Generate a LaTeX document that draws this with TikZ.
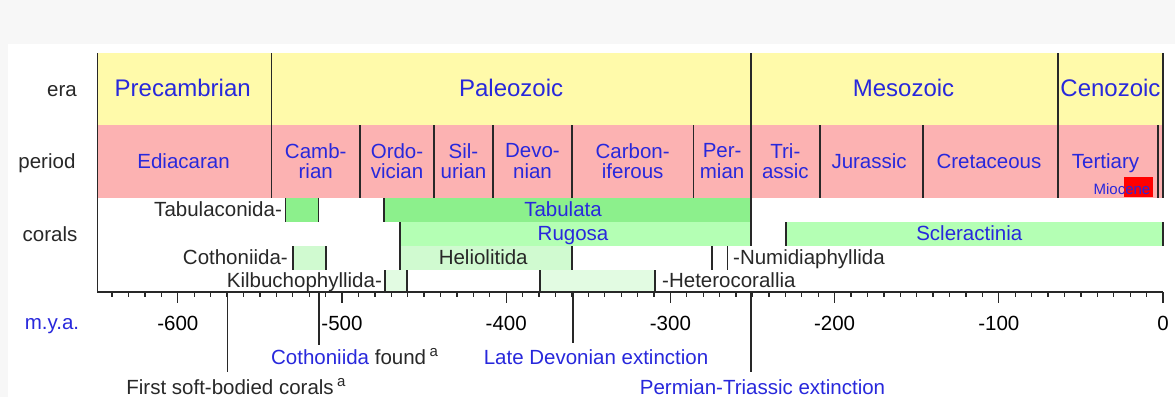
\documentclass[tikz,border=0pt]{standalone}
\usepackage{fontspec}
\setmainfont{Liberation Sans}
\definecolor{erayellow}{RGB}{255,250,170}
\definecolor{periodpink}{RGB}{252,178,178}
\definecolor{tabgreen}{RGB}{140,240,140}
\definecolor{ruggreen}{RGB}{180,255,180}
\definecolor{heligreen}{RGB}{208,250,208}
\definecolor{palegreen}{RGB}{226,251,226}
\definecolor{labelblue}{RGB}{40,40,220}
\definecolor{labelgrey}{RGB}{40,40,40}
\newcommand{\supmark}{\,\raisebox{8pt}{\fontsize{15}{15}\selectfont a}}
\tikzset{
  txt/.style={font=\fontsize{20.5}{20.5}\selectfont,inner sep=0pt,anchor=base},
  erafont/.style={font=\fontsize{24}{24}\selectfont},
  bluetxt/.style={txt,text=labelblue},
  greytxt/.style={txt,text=labelgrey},
  twoline/.style={anchor=center,align=center},
  rule/.style={draw=labelgrey,line width=1.6pt},
  tickline/.style={draw=labelgrey,line width=1.3pt}
}
\begin{document}
\begin{tikzpicture}[x=1.642pt,y=-1pt]
	\useasboundingbox (-708.3,0) rectangle (7.3,397);
	\fill[black!3] (-708.3,0) rectangle (7.3,397);
	\fill[white] (-703.4,44) rectangle (7.3,397);
	% eras and periods
	\fill[erayellow] (-649,53) rectangle (0,125);
	\fill[periodpink] (-649,125) rectangle (0,198);
	\fill[red] (-23.6,177.3) rectangle (-6.3,196.7);
	\foreach \t in {-543,-251,-64,0}
		\draw[rule] (\t,53) -- (\t,198);
	\foreach \t in {-489,-444,-408,-360,-286,-209,-146,-3}
		\draw[rule] (\t,125) -- (\t,198);
	\node[greytxt] (era) at (-670.5,96) {era};
	\node[greytxt] (period) at (-679.7,168) {period};
	\node[greytxt] (corals) at (-677.8,241) {corals};
	\node[bluetxt] (mya) at (-676.6,329) {m.y.a.};
	\node[bluetxt,erafont] (precamb) at (-597,96) {Precambrian};
	\node[bluetxt,erafont] (paleo) at (-397,96) {Paleozoic};
	\node[bluetxt,erafont] (meso) at (-158,96) {Mesozoic};
	\node[bluetxt,erafont] (ceno) at (-32,96) {Cenozoic};
	\node[bluetxt] (ediac) at (-596.5,168) {Ediacaran};
	\node[bluetxt,twoline] (camb) at (-516,161) {Camb-\\rian};
	\node[bluetxt,twoline] (ordo) at (-466.5,161) {Ordo-\\vician};
	\node[bluetxt,twoline] (silu) at (-426,161) {Sil-\\urian};
	\node[bluetxt,twoline] (devo) at (-384,161) {Devo-\\nian};
	\node[bluetxt,twoline] (carbo) at (-323,161) {Carbon-\\iferous};
	\node[bluetxt,twoline] (perm) at (-268.5,161) {Per-\\mian};
	\node[bluetxt,twoline] (trias) at (-230,161) {Tri-\\assic};
	\node[bluetxt] (juras) at (-179,168) {Jurassic};
	\node[bluetxt] (creta) at (-106,168) {Cretaceous};
	\node[bluetxt] (terti) at (-35,168) {Tertiary};
	\node[bluetxt,font=\fontsize{15}{15}\selectfont] (mioc) at (-25,194) {Miocene};
	% coral ranges
	\foreach \a/\b/\ya/\yb/\c in {-534.3/-514.4/198/222/tabgreen,-474.4/-251/198/222/tabgreen,
		-464.7/-251/222/246/ruggreen,-229.6/0/222/246/ruggreen,
		-529.8/-509.7/246/270/heligreen,-464.7/-360/246/270/heligreen,-274.7/-265.1/246/270/white,
		-473.8/-460.4/270/292/palegreen,-379.4/-309.4/270/292/palegreen}{
		\fill[\c] (\a,\ya) rectangle (\b,\yb);
		\draw[tickline] (\a,\ya) -- (\a,\yb) (\b,\ya) -- (\b,\yb);
	}
	\draw[rule] (-251,198) -- (-251,246);
	\node[greytxt,anchor=base east] (tabcon) at (-536.5,216.5) {Tabulaconida-};
	\node[bluetxt] (tabul) at (-365.4,216) {Tabulata};
	\node[bluetxt] (rugosa) at (-359.3,240) {Rugosa};
	\node[bluetxt] (sclera) at (-118,240.5) {Scleractinia};
	\node[greytxt,anchor=base east] (cothon) at (-532.9,264) {Cothoniida-};
	\node[greytxt] (helio) at (-414,264) {Heliolitida};
	\node[greytxt,anchor=base west] (numid) at (-261.9,264) {-Numidiaphyllida};
	\node[greytxt,anchor=base east] (kilbu) at (-475.6,287.3) {Kilbuchophyllida-};
	\node[greytxt,anchor=base west] (hetero) at (-305.1,287.3) {-Heterocorallia};
	% time axis
	\draw[rule] (-649,53) -- (-649,292) -- (0,292);
	\foreach \t in {-640,-630,...,0}
		\draw[tickline] (\t,292) -- (\t,297);
	\foreach \t [count=\i] in {-600,-500,...,0}{
		\draw[tickline] (\t,292) -- (\t,303);
		\node[txt] (tick\i) at (\t,330) {\t};
	}
	% events
	\draw[tickline] (-569.6,292) -- (-569.6,372);
	\draw[tickline] (-514,292) -- (-514,345);
	\draw[tickline] (-359.3,292) -- (-359.3,343);
	\draw[tickline] (-251,292) -- (-251,372);
	\node[greytxt] (softbody) at (-564.6,394) {First soft-bodied corals\supmark};
	\node[greytxt] (cothfound) at (-492.4,364) {\textcolor{labelblue}{Cothoniida} found\supmark};
	\node[bluetxt] (devext) at (-345.3,364) {Late Devonian extinction};
	\node[bluetxt] (ptext) at (-243.9,394) {Permian-Triassic extinction};
\end{tikzpicture}
\end{document}
